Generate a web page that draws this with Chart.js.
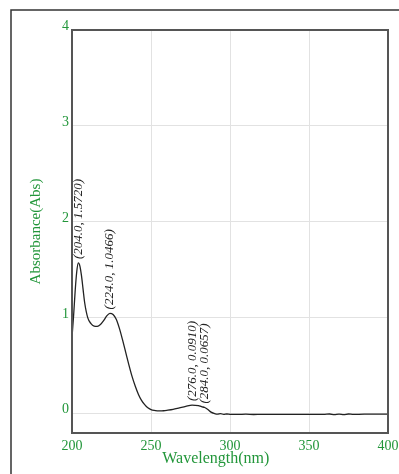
<!DOCTYPE html>
<html>
<head>
<meta charset="utf-8">
<script src="https://cdn.jsdelivr.net/npm/chart.js@4"></script>
<style>
  body { margin: 0; background: #fff; }
  canvas { display: block; }
</style>
</head>
<body>
<canvas id="specChart" width="399" height="474"></canvas>
<script>
// spectrum
const wavelengths = [200, 201, 202, 203, 204, 205, 206, 207, 208, 210, 212, 214, 216, 218, 220, 222, 224, 226, 228, 230,
  232, 234, 236, 238, 240, 242, 244, 246, 248, 250, 252, 254, 256, 258, 260, 264, 268, 272, 276, 280,
  282, 284, 286, 288, 290, 292, 294, 296, 298, 300, 305, 310, 315, 320, 325, 330, 335, 340, 345, 350,
  355, 360, 363, 366, 369, 372, 375, 378, 385, 390, 395, 400];
const absorbance = [0.80, 1.02, 1.28, 1.48, 1.572, 1.54, 1.44, 1.30, 1.16, 1.00, 0.94, 0.915, 0.912, 0.93, 0.97, 1.02, 1.0466, 1.035, 0.985, 0.89,
  0.77, 0.64, 0.51, 0.39, 0.29, 0.205, 0.14, 0.095, 0.062, 0.044, 0.035, 0.031, 0.030, 0.032, 0.036, 0.046, 0.062, 0.078, 0.091, 0.086,
  0.074, 0.0657, 0.045, 0.018, 0.004, -0.004, 0.002, -0.006, -0.002, -0.005, -0.006, -0.004, -0.007, -0.005, -0.006, -0.006, -0.006, -0.005, -0.006, -0.006,
  -0.006, -0.005, -0.002, -0.008, -0.003, -0.008, -0.002, -0.006, -0.004, -0.004, -0.004, -0.004];

const peakWl = [204.0, 224.0, 276.0, 284.0];
const peakAbs = [1.5720, 1.0466, 0.0910, 0.0657];

const xTicks = [200, 250, 300, 350, 400];
const yTicks = [0, 1, 2, 3, 4];

const green = '#22963a';
const serif = "'Liberation Serif', 'DejaVu Serif', serif";

const frame = {
  id: 'frame',
  beforeDraw(chart) {
    const ctx = chart.ctx;
    ctx.save();
    ctx.strokeStyle = '#333';
    ctx.lineWidth = 1.5;
    ctx.beginPath();
    ctx.moveTo(11, chart.height);
    ctx.lineTo(11, 10);
    ctx.lineTo(chart.width, 10);
    ctx.stroke();
    ctx.restore();
  },
  afterDraw(chart) {
    const { ctx, chartArea: a } = chart;
    ctx.save();
    ctx.strokeStyle = '#555';
    ctx.lineWidth = 2;
    ctx.strokeRect(a.left, a.top, a.right - a.left, a.bottom - a.top);

    // peak labels
    const xs = chart.scales.x, ys = chart.scales.y;
    ctx.fillStyle = '#222';
    ctx.font = 'italic 13px ' + serif;
    ctx.textAlign = 'left';
    ctx.textBaseline = 'middle';
    peakWl.forEach((wl, i) => {
      const px = xs.getPixelForValue(wl);
      const py = ys.getPixelForValue(peakAbs[i]);
      ctx.save();
      ctx.translate(px, py - 4);
      ctx.rotate(-Math.PI / 2);
      ctx.fillText(`(${wl.toFixed(1)}, ${peakAbs[i].toFixed(4)})`, 0, 0);
      ctx.restore();
    });

    // x axis title
    ctx.fillStyle = green;
    ctx.font = '16px ' + serif;
    ctx.textAlign = 'center';
    ctx.fillText('Wavelength(nm)', a.left + (a.right - a.left) * 0.455, 459);
    ctx.restore();
  }
};

new Chart(document.getElementById('specChart'), {
  type: 'line',
  data: {
    datasets: [{
      data: wavelengths.map((w, i) => ({ x: w, y: absorbance[i] })),
      borderColor: '#222',
      borderWidth: 1.3,
      pointRadius: 0,
      cubicInterpolationMode: 'monotone',
      fill: false
    }]
  },
  options: {
    responsive: false,
    animation: false,
    layout: { padding: { left: 0, top: 30, right: 0, bottom: 0 } },
    plugins: { legend: { display: false }, tooltip: { enabled: false } },
    scales: {
      x: {
        type: 'linear',
        min: 200,
        max: 400,
        afterBuildTicks: s => { s.ticks = xTicks.map(v => ({ value: v })); },
        afterFit: s => { s.height = 41; s.paddingLeft = 0; s.paddingRight = 11; },
        grid: { color: '#e2e2e2', lineWidth: 1, drawTicks: false },
        border: { color: '#555', width: 2 },
        ticks: { color: green, padding: 5, maxRotation: 0, font: { family: serif, size: 14 } }
      },
      y: {
        min: -0.2,
        max: 4,
        afterBuildTicks: s => { s.ticks = yTicks.map(v => ({ value: v })); },
        afterFit: s => { s.width = 72; s.paddingTop = 0; s.paddingBottom = 0; },
        grid: { color: '#e2e2e2', lineWidth: 1, drawTicks: false },
        border: { color: '#555', width: 2 },
        ticks: { color: green, padding: 3, labelOffset: -4, font: { family: serif, size: 14 } },
        title: { display: true, text: 'Absorbance(Abs)', color: green, padding: { top: 27 }, font: { family: serif, size: 15 } }
      }
    }
  },
  plugins: [frame]
});
</script>
</body>
</html>
